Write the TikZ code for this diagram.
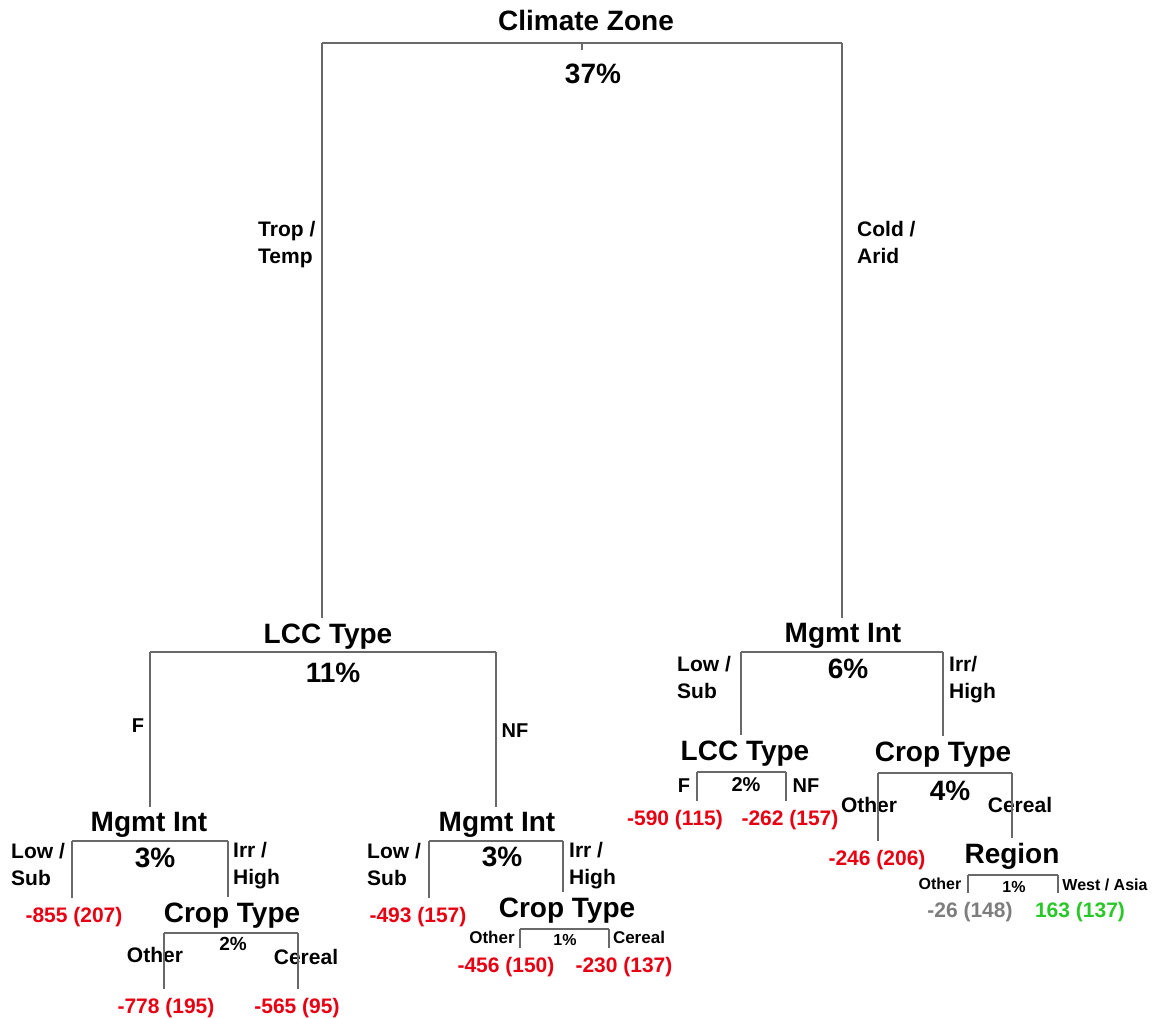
\documentclass[tikz,border=0pt]{standalone}
\usepackage{fontspec}
\setmainfont{Liberation Sans}
\definecolor{leafred}{RGB}{232,0,18}
\definecolor{leafgray}{RGB}{125,125,125}
\definecolor{leafgreen}{RGB}{40,200,40}
\definecolor{linegray}{RGB}{105,105,105}
\tikzset{
  split/.style={font=\fontsize{28}{32}\selectfont\bfseries, anchor=base, inner sep=5pt},
  pct/.style={font=\fontsize{#1}{#1}\selectfont\bfseries, anchor=base, inner sep=0pt},
  pct/.default=28,
  side/.style={font=\fontsize{#1}{#1}\selectfont\bfseries, anchor=base, inner sep=0pt},
  side/.default=21,
  branch/.style={font=\fontsize{21}{27}\selectfont\bfseries, align=left, anchor=base west, inner sep=0pt},
  leaf/.style={font=\fontsize{21}{21}\selectfont\bfseries, anchor=base, inner sep=9pt, text=leafred},
  bar/.style={draw=linegray, line width=1.4pt},
}

\begin{document}
\begin{tikzpicture}[x=1pt, y=-1pt]
\useasboundingbox (0,0) rectangle (1158,1018);

% Nodes

\node[split] (cz) at (586,30) {Climate Zone};
\node[pct] (czp) at (593,83) {37\%};
\node[split] (lccA) at (328,643) {LCC Type};
\node[pct] (lccAp) at (333,682) {11\%};
\node[split] (mgmtB) at (843,642) {Mgmt Int};
\node[pct] (mgmtBp) at (848,678) {6\%};
\node[split] (mgmtA1) at (149,831) {Mgmt Int};
\node[pct] (mgmtA1p) at (155,867) {3\%};
\node[split] (mgmtA2) at (497,831) {Mgmt Int};
\node[pct] (mgmtA2p) at (502,866) {3\%};
\node[split] (cropA1) at (232,922) {Crop Type};
\node[pct=19] (cropA1p) at (233,950) {2\%};
\node[split] (cropA2) at (567,917) {Crop Type};
\node[pct=16] (cropA2p) at (565,945) {1\%};
\node[split] (lccB) at (745,760) {LCC Type};
\node[pct=20] (lccBp) at (746,791) {2\%};
\node[split] (cropB) at (943,761) {Crop Type};
\node[pct] (cropBp) at (950,800) {4\%};
\node[split] (region) at (1012,863) {Region};
\node[pct=16] (regionp) at (1014,892) {1\%};

% Branch labels (base = last line)

\node[branch] (czLt) at (258,263) {Trop /\\Temp};
\node[branch] (czRt) at (857,263) {Cold /\\Arid};
\node[side=20] (lccALt) at (138,732) {F};
\node[side=20] (lccARt) at (515,737) {NF};
\node[branch] (mgmtA1Lt) at (11,885) {Low /\\Sub};
\node[branch] (mgmtA1Rt) at (233,884) {Irr /\\High};
\node[branch] (mgmtA2Lt) at (367,885) {Low /\\Sub};
\node[branch] (mgmtA2Rt) at (569,884) {Irr /\\High};
\node[branch] (mgmtBLt) at (677,698) {Low /\\Sub};
\node[branch] (mgmtBRt) at (949,698) {Irr/\\High};
\node[side] (cropA1Lt) at (155,962) {Other};
\node[side] (cropA1Rt) at (306,964) {Cereal};
\node[side=17] (cropA2Lt) at (492,943) {Other};
\node[side=17] (cropA2Rt) at (639,943) {Cereal};
\node[side=20] (lccBLt) at (684,792) {F};
\node[side=20] (lccBRt) at (806,792) {NF};
\node[side] (cropBLt) at (869,812) {Other};
\node[side] (cropBRt) at (1020,812) {Cereal};
\node[side=16] (regionLt) at (940,889) {Other};
\node[side=16] (regionRt) at (1105,890) {West / Asia};

% Leaves

\node[leaf] (leaf1) at (74,922) {-855 (207)};
\node[leaf] (leaf2) at (166,1013) {-778 (195)};
\node[leaf] (leaf3) at (297,1013) {-565 (95)};
\node[leaf] (leaf4) at (418,922) {-493 (157)};
\node[leaf] (leaf5) at (506,972) {-456 (150)};
\node[leaf] (leaf6) at (624,972) {-230 (137)};
\node[leaf] (leaf7) at (675,825) {-590 (115)};
\node[leaf] (leaf8) at (790,825) {-262 (157)};
\node[leaf] (leaf9) at (877,865) {-246 (206)};
\node[leaf, text=leafgray] (leaf10) at (970,917) {-26 (148)};
\node[leaf, text=leafgreen] (leaf11) at (1080,917) {163 (137)};

% Split bars

\coordinate (czL) at (322,43);      \coordinate (czR) at (842,43);
\coordinate (lccAL) at (150,652);   \coordinate (lccAR) at (496,652);
\coordinate (mgmtBL) at (741,652);  \coordinate (mgmtBR) at (943,652);
\coordinate (mgmtA1L) at (72,841);  \coordinate (mgmtA1R) at (228,841);
\coordinate (mgmtA2L) at (429,841); \coordinate (mgmtA2R) at (563,841);
\coordinate (cropA1L) at (164,933); \coordinate (cropA1R) at (298,933);
\coordinate (cropA2L) at (520,929); \coordinate (cropA2R) at (609,929);
\coordinate (lccBL) at (697,772);   \coordinate (lccBR) at (786,772);
\coordinate (cropBL) at (878,773);  \coordinate (cropBR) at (1012,773);
\coordinate (regionL) at (968,875); \coordinate (regionR) at (1058,875);
\coordinate (czT) at (582,43);

\foreach \s in {cz,lccA,mgmtB,mgmtA1,mgmtA2,cropA1,cropA2,lccB,cropB,region}
  \draw[bar] (\s L) -- (\s R);
\draw[bar] (czT) -- ++(0,7);

% Edges

\foreach \a/\b in {czL/lccA, czR/mgmtB,
                   lccAL/mgmtA1, lccAR/mgmtA2,
                   mgmtA1L/leaf1, mgmtA1R/cropA1,
                   cropA1L/leaf2, cropA1R/leaf3,
                   mgmtA2L/leaf4, mgmtA2R/cropA2,
                   cropA2L/leaf5, cropA2R/leaf6,
                   mgmtBL/lccB, mgmtBR/cropB,
                   lccBL/leaf7, lccBR/leaf8,
                   cropBL/leaf9, cropBR/region,
                   regionL/leaf10, regionR/leaf11}
  \draw[bar] (\a) -- (\a |- \b.north);

\end{tikzpicture}
\end{document}
